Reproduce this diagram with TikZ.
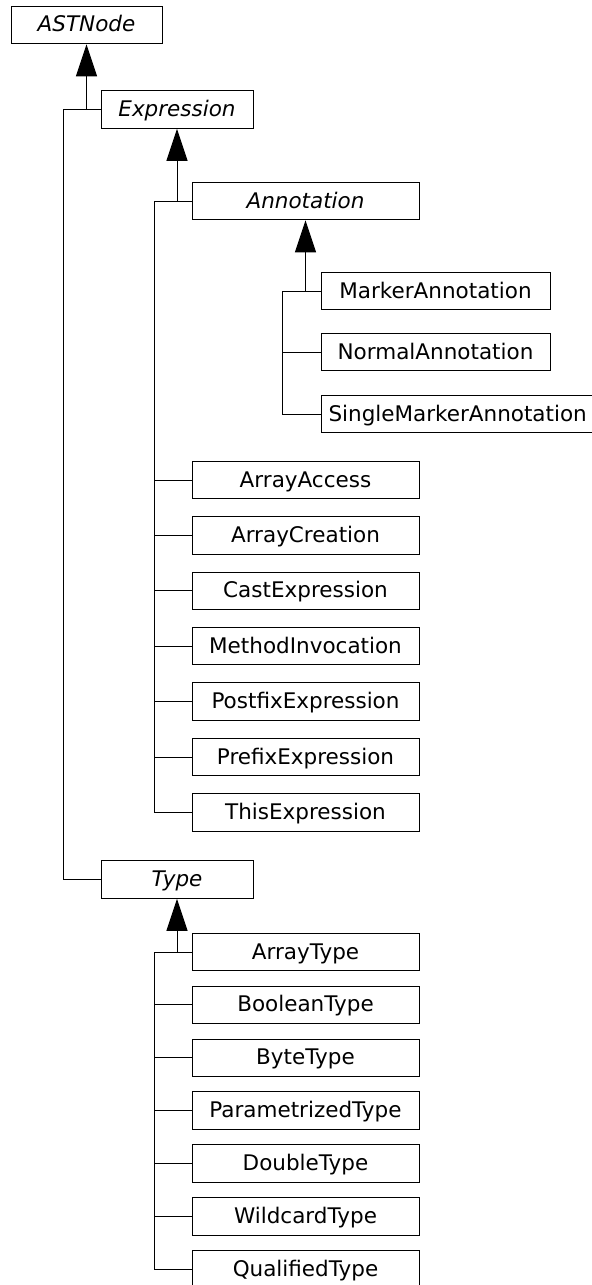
\documentclass[tikz,border=0pt]{standalone}
\usepackage{fontspec}
\setmainfont{DejaVu Sans}
\usetikzlibrary{arrows.meta,positioning}
\tikzstyle{cls}=[rectangle, draw=black, line width=0.5pt, minimum width=113.5pt, minimum height=18.75pt, inner sep=1pt, text height=9pt, text depth=2pt, text centered, font=\fontsize{10.75}{12}\selectfont]
\tikzstyle{abscls}=[cls, font=\fontsize{10.75}{12}\selectfont\itshape]
\tikzstyle{inherit}=[-{Triangle[length=16pt,width=10.5pt]}, line width=0.5pt]
\tikzstyle{link}=[line width=0.5pt]

\begin{document}
\begin{tikzpicture}[x=0.5pt,y=-0.5pt]
\useasboundingbox (0,0) rectangle (591,1285);
%Abstract classes
\node[abscls, minimum width=75.5pt] (ast) at (86.5,25){ASTNode};
\node[abscls, minimum width=76pt] (expr) at (177,109.5){Expression};
\node[abscls] (ann) at (305.5,201){Annotation};
\node[abscls, minimum width=76pt] (type) at (177,879.5){Type};

%Annotations
\node[cls, minimum width=114.5pt] (markann) at (435.5,291){MarkerAnnotation};
\node[cls, minimum width=114.5pt] (normann) at (435.5,352){NormalAnnotation};
\node[cls, anchor=west, inner xsep=3.5pt] (singann) at (321,414){SingleMarkerAnnotation};

%Expressions
\node[cls] (arracc) at (305.5,480){ArrayAccess};
\node[cls] (arrcre) at (305.5,535.4){ArrayCreation};
\node[cls] (castexp) at (305.5,590.8){CastExpression};
\node[cls] (methinv) at (305.5,646.2){MethodInvocation};
\node[cls] (postexp) at (305.5,701.6){PostfixExpression};
\node[cls] (preexp) at (305.5,757){PrefixExpression};
\node[cls] (thisexp) at (305.5,812.4){ThisExpression};

%Types
\node[cls] (arrtype) at (305.5,952){ArrayType};
\node[cls] (booltype) at (305.5,1004.9){BooleanType};
\node[cls] (bytetype) at (305.5,1057.8){ByteType};
\node[cls] (partype) at (305.5,1110.7){ParametrizedType};
\node[cls] (dbltype) at (305.5,1163.6){DoubleType};
\node[cls] (wildtype) at (305.5,1216.5){WildcardType};
\node[cls] (qualtype) at (305.5,1269.4){QualifiedType};

%ASTNode tree
\path (ast.south |- expr.west) coordinate (j0) ++(-11.5pt,0) coordinate (t0);
\draw[inherit] (j0) -- (ast.south);
\draw[link] (expr.west) -- (t0) |- (type.west);

%Expression tree
\path (expr.south |- ann.west) coordinate (j1) ++(-11.5pt,0) coordinate (t1);
\draw[inherit] (j1) -- (expr.south);
\draw[link] (ann.west) -- (t1) |- (thisexp.west);
\draw[link] (t1 |- arracc.west) -- (arracc.west);
\draw[link] (t1 |- arrcre.west) -- (arrcre.west);
\draw[link] (t1 |- castexp.west) -- (castexp.west);
\draw[link] (t1 |- methinv.west) -- (methinv.west);
\draw[link] (t1 |- postexp.west) -- (postexp.west);
\draw[link] (t1 |- preexp.west) -- (preexp.west);

%Annotation tree
\path (ann.south |- markann.west) coordinate (j2) ++(-11.5pt,0) coordinate (t2);
\draw[inherit] (j2) -- (ann.south);
\draw[link] (markann.west) -- (t2) |- (singann.west);
\draw[link] (t2 |- normann.west) -- (normann.west);

%Type tree
\path (type.south |- arrtype.west) coordinate (j3) ++(-11.5pt,0) coordinate (t3);
\draw[inherit] (j3) -- (type.south);
\draw[link] (arrtype.west) -- (t3) |- (qualtype.west);
\draw[link] (t3 |- booltype.west) -- (booltype.west);
\draw[link] (t3 |- bytetype.west) -- (bytetype.west);
\draw[link] (t3 |- partype.west) -- (partype.west);
\draw[link] (t3 |- dbltype.west) -- (dbltype.west);
\draw[link] (t3 |- wildtype.west) -- (wildtype.west);

\end{tikzpicture}
\end{document}
